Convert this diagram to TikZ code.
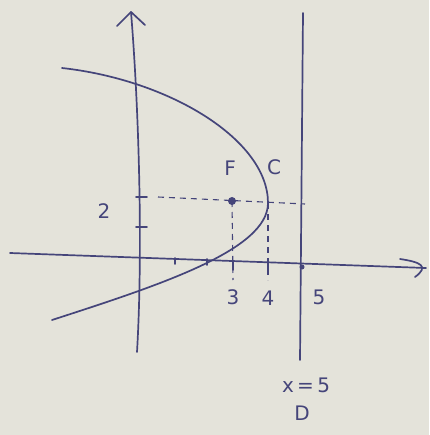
\documentclass[tikz,border=0pt]{standalone}
\usepackage{fontspec}
\setmainfont{DejaVu Sans}
\begin{document}
\begin{tikzpicture}[x=1pt,y=-1pt,
  ink/.style={draw=inkc, line width=1.7pt, line cap=round, line join=round},
  dashline/.style={draw=inkc, line width=1.1pt, dash pattern=on 6pt off 5pt},
  lbl/.style={text=inkc, font=\fontsize{20}{22}\selectfont, inner sep=0pt}]
\definecolor{inkc}{HTML}{45457A}
\definecolor{paper}{HTML}{E4E3DA}
\fill[paper] (0,0) rectangle (429,435);
\useasboundingbox (0,0) rectangle (429,435);
% y axis
\coordinate (ytop) at (131,12);
\coordinate (ybot) at (137,352);
\draw[ink] (ybot) .. controls (143,250) and (139,110) .. (ytop);
\draw[ink] (117,26) -- (ytop) -- (145,25);
% x axis
\coordinate (xl) at (10,253);
\coordinate (xr) at (426,268);
\draw[ink] (xl) -- (xr);
\draw[ink] (400,259) .. controls (420,262) and (430,266) .. (415,277);
% directrix
\coordinate (dtop) at (303,13);
\coordinate (dbot) at (300,360);
\draw[ink] (dtop) -- (dbot);
% parabola
\coordinate (P1) at (62,68);
\coordinate (C) at (268,203);
\coordinate (P2) at (52,320);
\draw[ink] (P1) .. controls (170,80) and (268,140) .. (C)
           .. controls (268,250) and (160,285) .. (P2);
% focus
\coordinate (F) at (232,201);
\fill[inkc] (F) circle (4);
% dashed lines
\coordinate (dl) at (158,197);
\coordinate (dr) at (305,204);
\draw[dashline] (dl) -- (dr);
\coordinate (F3) at (233,280);
\coordinate (C4) at (268,280);
\draw[dashline] (F) -- (F3);
\draw[dashline] (C) -- (C4);
% y ticks
\coordinate (t1a) at (136,197); \coordinate (t1b) at (147,197);
\coordinate (t2a) at (136,227); \coordinate (t2b) at (147,227);
\draw[ink] (t1a) -- (t1b);
\draw[ink] (t2a) -- (t2b);
% x ticks
\coordinate (x1a) at (175,258); \coordinate (x1b) at (175,264);
\coordinate (x2a) at (207,259); \coordinate (x2b) at (207,265);
\coordinate (x3a) at (233,261); \coordinate (x3b) at (233,270);
\coordinate (x4a) at (268,262); \coordinate (x4b) at (268,271);
\draw[ink] (x1a) -- (x1b);
\draw[ink] (x2a) -- (x2b);
\draw[ink] (x3a) -- (x3b);
\draw[ink] (x4a) -- (x4b);
\fill[inkc] (302,267) circle (2.5);
% labels
\node[lbl] (lF) at (230,168) {F};
\node[lbl] (lC) at (274,167) {C};
\node[lbl] (l2) at (104,211) {2};
\node[lbl] (l3) at (233,297) {3};
\node[lbl] (l4) at (268,298) {4};
\node[lbl] (l5) at (319,297) {5};
\node[lbl] (lx) at (306,385) {x\,=\,5};
\node[lbl] (lD) at (302,413) {D};
\end{tikzpicture}
\end{document}
